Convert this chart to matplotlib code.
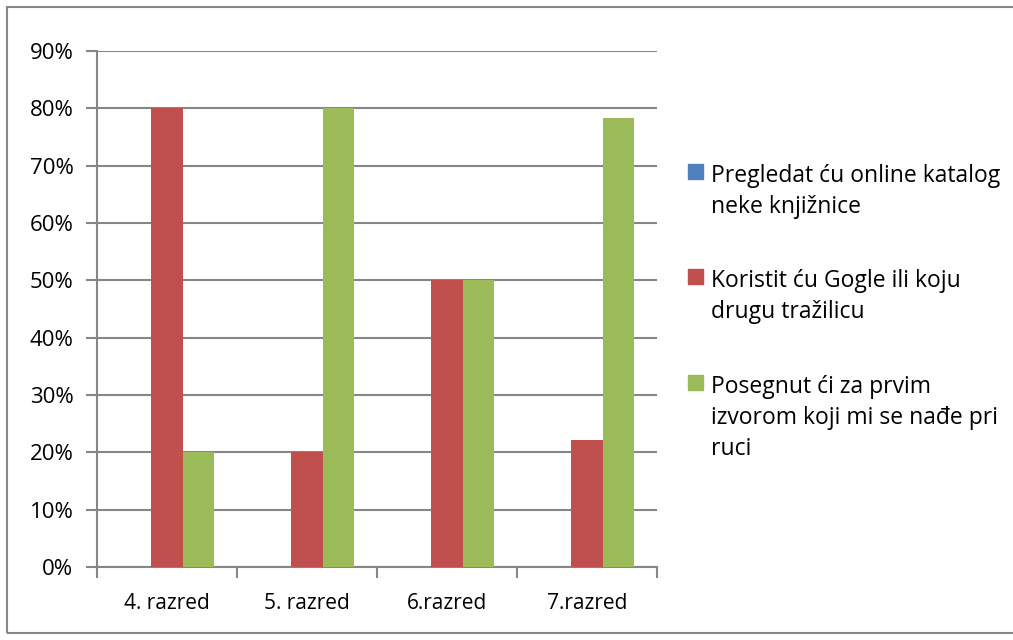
import numpy as np
import matplotlib
matplotlib.use("Agg")
from matplotlib import pyplot as plt
from matplotlib.patches import Rectangle

# data
categories = ["4. razred", "5. razred", "6.razred", "7.razred"]
series_names = ["Pregledat ću online katalog\nneke knjižnice",
                "Koristit ću Gogle ili koju\ndrugu tražilicu",
                "Posegnut ći za prvim\nizvorom koji mi se nađe pri\nruci"]
katalog = [0, 0, 0, 0]
trazilica = [80, 20, 50, 22.2]
prvi_izvor = [20, 80, 50, 78.4]
colors = ["#4F81BD", "#C0504D", "#9BBB59"]

plt.rcParams['font.family'] = ['Open Sans', 'DejaVu Sans']
grey = "#868686"

fig = plt.figure(figsize=(10.13, 6.4), dpi=100)
ax = fig.add_axes([97/1013, 1-567/640, 560/1013, 516/640])

x = np.arange(len(categories))
w = 1 / 4.5
for i, vals in enumerate([katalog, trazilica, prvi_izvor]):
    ax.bar(x + (i - 1) * w, vals, w, color=colors[i], zorder=3)

ax.set_xlim(-0.5, len(categories) - 0.5)
ax.set_ylim(0, 90)
ax.set_yticks(np.arange(0, 91, 10))
ax.set_yticklabels([f"{v}%" for v in range(0, 91, 10)])
ax.set_xticks(x)
ax.set_xticklabels(categories)
ax.set_xticks(np.arange(-0.5, len(categories)), minor=True)
ax.tick_params(axis='x', which='major', length=0, pad=19, labelsize=15)
ax.tick_params(axis='x', which='minor', length=8, width=1.5, color=grey)
ax.tick_params(axis='y', length=8, width=1.5, color=grey, labelsize=16, pad=9)
ax.grid(axis='y', color=grey, lw=1.5, zorder=0)
for s in ['top', 'right']:
    ax.spines[s].set_visible(False)
for s in ['left', 'bottom']:
    ax.spines[s].set_color(grey)
    ax.spines[s].set_linewidth(1.5)

# legend drawn by hand so the square sits at the first line
tops = [172, 277, 383]
for name, c, yt in zip(series_names, colors, tops):
    fig.patches.append(Rectangle((688/1013, 1-(yt+7)/640), 15/1013, 15/640,
                                 transform=fig.transFigure, color=c))
    fig.text(711/1013, 1-(yt-8)/640, name, fontsize=16.5, va='top', ha='left',
             linespacing=1.4)

# outer chart border
fig.patches.append(Rectangle((7/1013, 7/640), 1010/1013, 626/640,
                             transform=fig.transFigure, fill=False,
                             edgecolor=grey, lw=1.5))

fig.savefig("out.png", dpi=100)
